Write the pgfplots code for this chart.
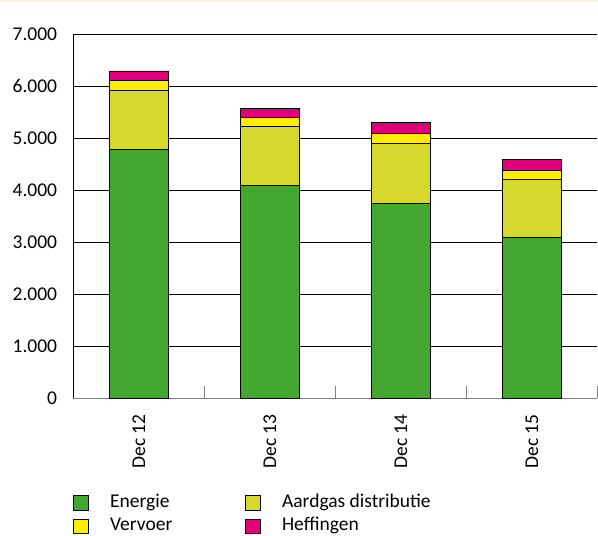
\documentclass[border=0pt]{standalone}
\usepackage{fontspec}
\setmainfont{Carlito}
\usepackage{pgfplots}
\pgfplotsset{compat=1.18}
\definecolor{cEn}{RGB}{67,166,46}
\definecolor{cAa}{RGB}{214,216,46}
\definecolor{cVe}{RGB}{255,237,0}
\definecolor{cHe}{RGB}{226,0,122}
\definecolor{cream}{RGB}{250,246,225}
\newcommand\lab{\fontsize{19.5bp}{23bp}\selectfont}
\begin{document}
\begin{tikzpicture}
\path[use as bounding box] (-73.3bp,-137.7bp) rectangle (524.7bp,398.3bp);
\fill[cream] (-73.3bp,396.3bp) rectangle (524.7bp,398.3bp);
\begin{axis}[
 at={(0,0)}, anchor=south west,
 scale only axis, width=524bp, height=364bp,
 ybar stacked, bar width=0.453,
 xmin=-0.5, xmax=3.5, ymin=0, ymax=7000,
 xtick={-0.5,0.5,1.5,2.5,3.5},
 x tick label as interval,
 xticklabels={Dec 12,Dec 13,Dec 14,Dec 15,{}},
 ytick={0,1000,...,7000},
 ymajorgrids, grid style={black, line width=0.8bp},
 axis x line*=bottom, axis y line*=left,
 x axis line style={-, draw=black!50, line width=0.8bp},
 y axis line style={-, draw=black, line width=0.8bp},
 tick align=inside,
 major tick length=12bp,
 xtick style={draw=black!50, line width=0.8bp},
 ytick style={draw=none},
 ticklabel style={font=\lab, inner sep=0pt, text=black},
 xticklabel style={rotate=90, anchor=east},
 xticklabel shift=16bp, yticklabel shift=16bp,
 /pgf/number format/1000 sep={.},
 /pgf/number format/assume math mode=true,
 legend columns=2,
 legend cell align=left,
 legend style={draw=none, fill=none, at={(0,0)}, anchor=north west, yshift=-96.5bp,
   font=\lab, inner sep=0pt, outer sep=0pt, row sep=7bp,
   nodes={inner sep=0pt, text height=12.5bp, text depth=4bp},
   /tikz/every odd column/.append style={column sep=21bp},
   /tikz/every even column/.append style={column sep=73bp}},
 legend image code/.code={\draw[#1, line width=0.8bp] (0bp,-7.25bp) rectangle (15bp,7.25bp);},
 every axis plot/.append style={draw=black, line width=0.8bp},
]
\addplot[fill=cEn] coordinates {(0,4790) (1,4095) (2,3750) (3,3090)};
\addplot[fill=cAa] coordinates {(0,1140) (1,1135) (2,1155) (3,1120)};
\addplot[fill=cVe] coordinates {(0,180) (1,175) (2,190) (3,175)};
\addplot[fill=cHe] coordinates {(0,185) (1,175) (2,205) (3,210)};
\legend{Energie, Aardgas distributie, Vervoer, Heffingen}
\end{axis}
\end{tikzpicture}
\end{document}
